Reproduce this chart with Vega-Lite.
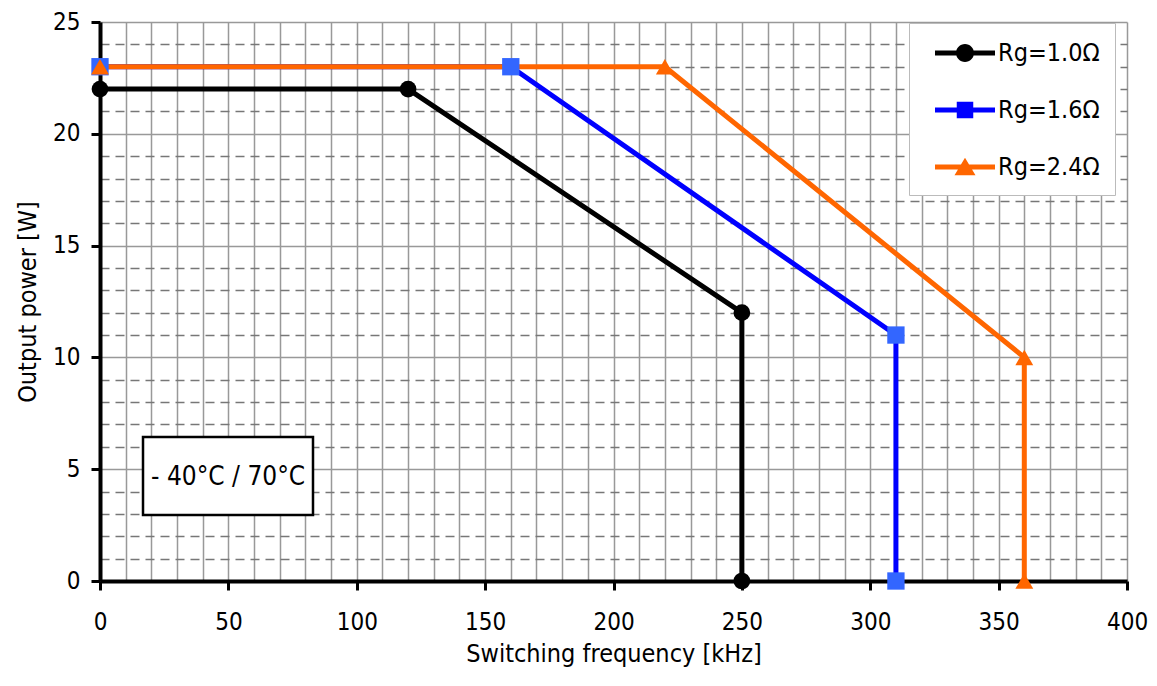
{
  "$schema": "https://vega.github.io/schema/vega-lite/v6.json",
  "width": 1027,
  "height": 559,
  "autosize": "none",
  "padding": {"left": 100, "top": 22, "right": 30, "bottom": 105},
  "background": "white",
  "config": {
    "font": "DejaVu Sans Condensed",
    "view": {"stroke": null},
    "axis": {
      "labelFont": "DejaVu Sans Condensed",
      "titleFont": "DejaVu Sans Condensed",
      "labelFontSize": 24,
      "titleFontSize": 25,
      "titleFontWeight": "normal",
      "labelColor": "#000",
      "titleColor": "#000",
      "domainColor": "#000",
      "domainWidth": 4,
      "tickColor": "#000",
      "tickWidth": 3,
      "tickSize": 9,
      "gridColor": "#999",
      "gridWidth": 1.5,
      "gridOpacity": 1
    },
    "legend": {
      "title": null,
      "orient": "none",
      "legendX": 809,
      "legendY": 1,
      "padding": 15,
      "rowPadding": 29,
      "symbolSize": 900,
      "symbolStrokeWidth": 0,
      "symbolOffset": 26,
      "labelOffset": 18,
      "labelFont": "DejaVu Sans Condensed",
      "labelFontSize": 25,
      "labelColor": "#000",
      "strokeColor": "#bbb",
      "fillColor": "white"
    }
  },
  "resolve": {"scale": {"shape": "independent", "fill": "independent", "size": "independent"}},
  "data": {
    "values": [
      {"series": "Rg=1.0Ω", "i": 0, "f": 0, "p": 22},
      {"series": "Rg=1.0Ω", "i": 1, "f": 120, "p": 22},
      {"series": "Rg=1.0Ω", "i": 2, "f": 250, "p": 12},
      {"series": "Rg=1.0Ω", "i": 3, "f": 250, "p": 0},
      {"series": "Rg=1.6Ω", "i": 0, "f": 0, "p": 23},
      {"series": "Rg=1.6Ω", "i": 1, "f": 160, "p": 23},
      {"series": "Rg=1.6Ω", "i": 2, "f": 310, "p": 11},
      {"series": "Rg=1.6Ω", "i": 3, "f": 310, "p": 0},
      {"series": "Rg=2.4Ω", "i": 0, "f": 0, "p": 23},
      {"series": "Rg=2.4Ω", "i": 1, "f": 220, "p": 23},
      {"series": "Rg=2.4Ω", "i": 2, "f": 360, "p": 10},
      {"series": "Rg=2.4Ω", "i": 3, "f": 360, "p": 0}
    ]
  },
  "encoding": {
    "x": {
      "field": "f",
      "type": "quantitative",
      "scale": {"domain": [0, 400], "nice": false},
      "axis": {
        "title": "Switching frequency [kHz]",
        "values": [0,10,20,30,40,50,60,70,80,90,100,110,120,130,140,150,160,170,180,190,200,210,220,230,240,250,260,270,280,290,300,310,320,330,340,350,360,370,380,390,400],
        "labelExpr": "datum.value % 50 === 0 ? datum.label : ''",
        "tickOpacity": {"condition": {"test": "datum.value % 50 === 0", "value": 1}, "value": 0},
        "labelPadding": 20,
        "titlePadding": 7,
        "labelFlush": false,
        "labelOverlap": false
      }
    },
    "y": {
      "field": "p",
      "type": "quantitative",
      "scale": {"domain": [0, 25], "nice": false},
      "axis": {
        "title": "Output power [W]",
        "values": [0,1,2,3,4,5,6,7,8,9,10,11,12,13,14,15,16,17,18,19,20,21,22,23,24,25],
        "labelExpr": "datum.value % 5 === 0 ? datum.label : ''",
        "tickOpacity": {"condition": {"test": "datum.value % 5 === 0", "value": 1}, "value": 0},
        "gridDash": {"condition": {"test": "datum.value % 5 === 0", "value": []}, "value": [9, 6]},
        "gridColor": {"condition": {"test": "datum.value % 5 === 0", "value": "#999"}, "value": "#777"},
        "labelPadding": 11,
        "titlePadding": 12,
        "labelFlush": false,
        "labelOverlap": false
      }
    }
  },
  "layer": [
    {
      "mark": {"type": "line", "strokeWidth": 5, "strokeJoin": "round"},
      "encoding": {
        "order": {"field": "i", "type": "quantitative"},
        "stroke": {
          "field": "series",
          "type": "nominal",
          "scale": {"domain": ["Rg=1.0Ω", "Rg=1.6Ω", "Rg=2.4Ω"], "range": ["#000000", "#0000FF", "#FF6600"]},
          "legend": null
        }
      }
    },
    {
      "mark": {"type": "point", "filled": true, "opacity": 1},
      "encoding": {
        "fill": {
          "field": "series",
          "type": "nominal",
          "scale": {"domain": ["Rg=1.0Ω", "Rg=1.6Ω", "Rg=2.4Ω"], "range": ["#000000", "#3366FF", "#FF6600"]},
          "legend": null
        },
        "shape": {
          "field": "series",
          "type": "nominal",
          "scale": {"domain": ["Rg=1.0Ω", "Rg=1.6Ω", "Rg=2.4Ω"], "range": ["circle", "square", "triangle-up"]},
          "legend": null
        },
        "size": {
          "field": "series",
          "type": "nominal",
          "scale": {"domain": ["Rg=1.0Ω", "Rg=1.6Ω", "Rg=2.4Ω"], "range": [280, 320, 360]},
          "legend": null
        }
      }
    },
    {
      "transform": [{"filter": "false"}],
      "mark": {"type": "point", "filled": true, "opacity": 1, "strokeWidth": 0},
      "encoding": {
        "fill": {
          "field": "series",
          "type": "nominal",
          "scale": {"domain": ["Rg=1.0Ω", "Rg=1.6Ω", "Rg=2.4Ω"], "range": ["#000000", "#0000FF", "#FF6600"]},
          "legend": {}
        },
        "shape": {
          "field": "series",
          "type": "nominal",
          "scale": {"domain": ["Rg=1.0Ω", "Rg=1.6Ω", "Rg=2.4Ω"], "range": ["M-2,-0.17H2V0.17H-2Z M-0.6,0A0.6,0.6,0,1,1,0.6,0A0.6,0.6,0,1,1,-0.6,0Z", "M-2,-0.17H2V0.17H-2Z M-0.55,-0.55H0.55V0.55H-0.55Z", "M-2,-0.17H2V0.17H-2Z M0,-0.62L0.7,0.55L-0.7,0.55Z"]},
          "legend": {}
        }
      }
    },
    {
      "transform": [{"filter": "datum.series === 'Rg=1.0Ω' && datum.i === 0"}],
      "mark": {"type": "rect", "fill": "white", "stroke": "#000", "strokeWidth": 2.5},
      "encoding": {
        "x": {"datum": 16.75, "type": "quantitative"},
        "x2": {"datum": 82.96},
        "y": {"datum": 6.44, "type": "quantitative"},
        "y2": {"datum": 2.95}
      }
    },
    {
      "transform": [{"filter": "datum.series === 'Rg=1.0Ω' && datum.i === 0"}],
      "mark": {"type": "text", "text": "- 40°C / 70°C", "font": "DejaVu Sans Condensed", "fontSize": 26, "fontWeight": "normal", "fill": "#000", "align": "center", "baseline": "middle"},
      "encoding": {
        "x": {"datum": 49.9, "type": "quantitative"},
        "y": {"datum": 4.65, "type": "quantitative"}
      }
    }
  ]
}
